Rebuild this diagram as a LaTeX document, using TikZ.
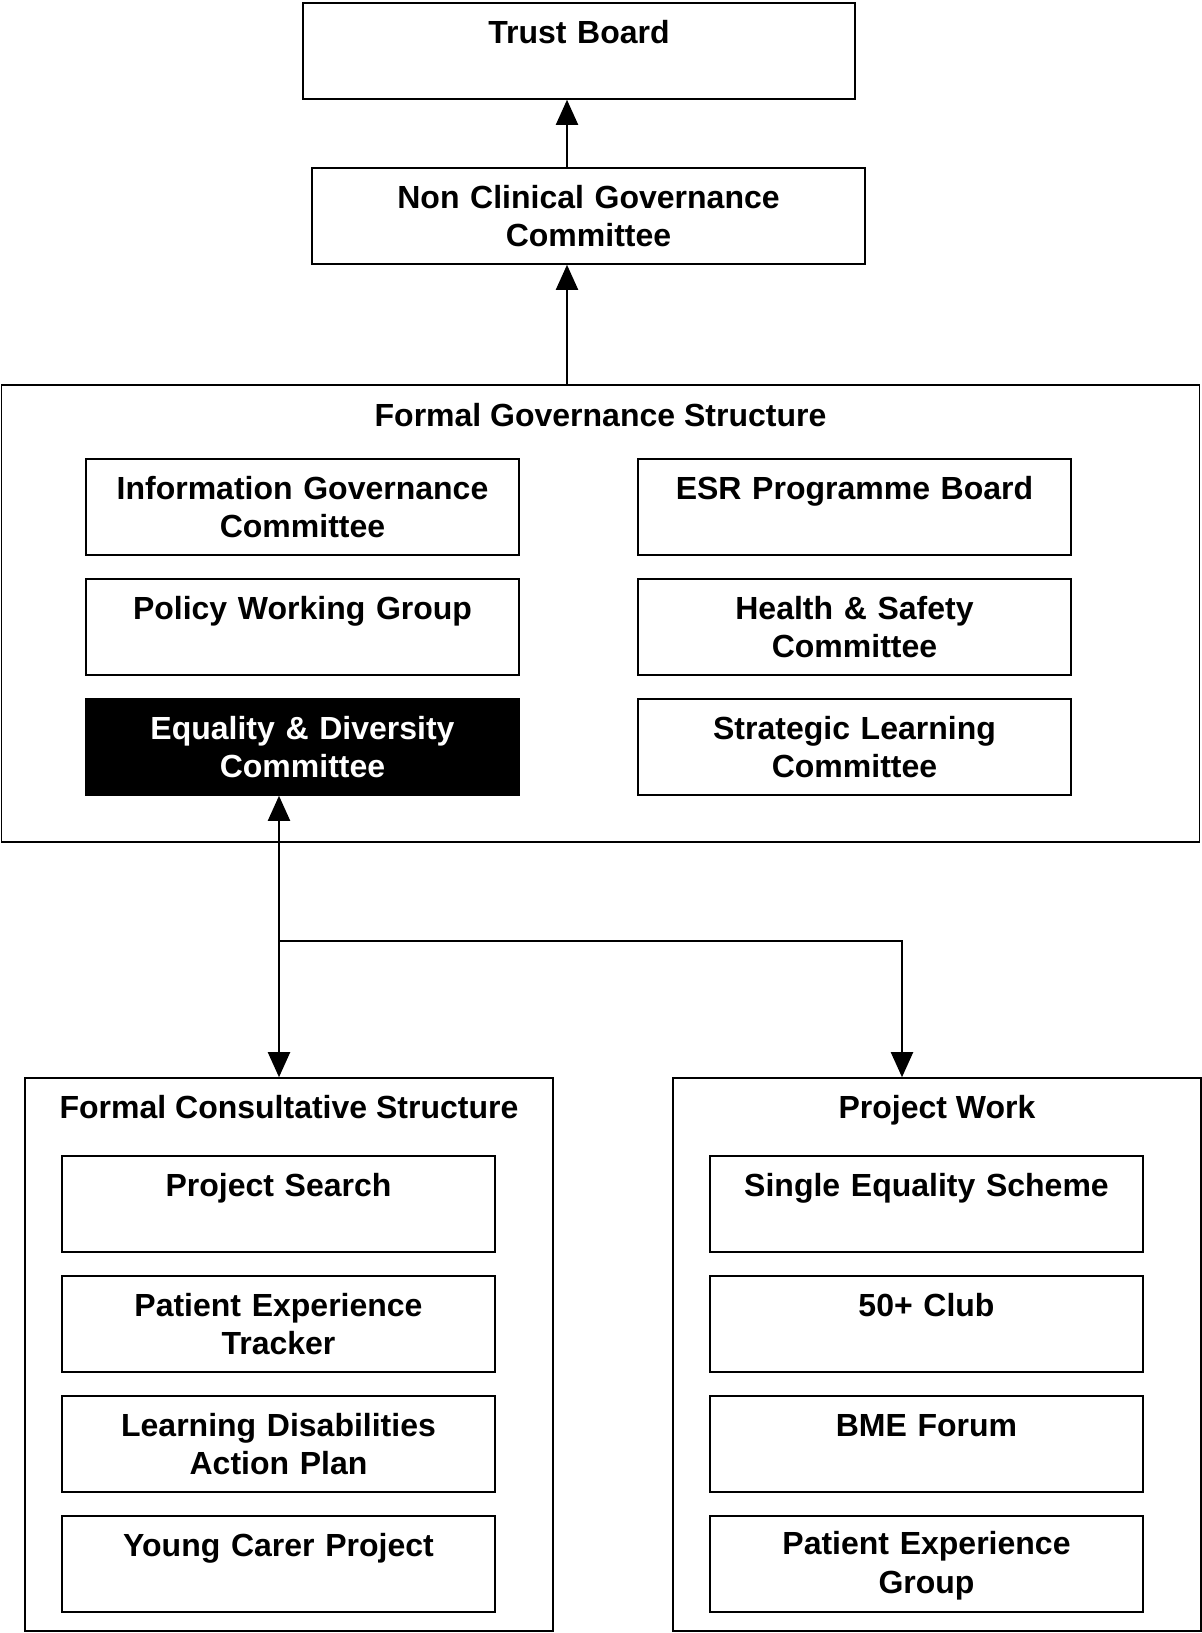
\documentclass[tikz,border=0pt]{standalone}
\usepackage{fontspec}
\setmainfont{Liberation Sans}
\usetikzlibrary{positioning,arrows.meta}

\begin{document}
\begin{tikzpicture}[
        x=0.5pt, y=-0.5pt,
        line width=0.8pt,
        font=\fontsize{16}{19.25}\selectfont\bfseries,
        zonetag/.style={anchor=base, align=center},
        zone/.style={draw, inner sep=0pt, minimum width=264pt, minimum height=276.5pt},
        unit/.style={draw, align=center, inner sep=0pt, text width=205pt, minimum width=216.5pt, minimum height=48pt,
          execute at begin node=\rule{0pt}{13.25pt}, execute at end node=\rule[-2pt]{0pt}{2pt}},
        link/.style={line width=1pt, -{Triangle[length=12.5pt, width=11pt]}},
        node distance=11.2pt
      ]

      \useasboundingbox (0,0) rectangle (1201,1633);

      \node (TB) at(579, 51) [unit, text width=260pt, minimum width=276pt] {Trust Board\\~};
      \node (NCG) at(588.5, 216) [unit, text width=260pt, minimum width=276.5pt] {Non Clinical Governance\\Committee};

      \node (FGS) at(600.5, 613.5) [zone, minimum width=599pt, minimum height=228.5pt] {};
      \node (FGStag) at([yshift=-21pt]FGS.north) [zonetag] {Formal Governance Structure};
      \node (IGC) at(302.5, 507) [unit] {Information Governance\\Committee};
      \node (PWG) [below=of IGC, unit] {Policy Working Group\\~};
      \node (EDC) [below=of PWG, unit, fill=black, text=white] {Equality \& Diversity\\Committee};
      \node (ESR) at(854.5, 507) [unit] {ESR Programme Board\\~};
      \node (HSC) [below=of ESR, unit] {Health \& Safety\\Committee};
      \node (SLC) [below=of HSC, unit] {Strategic Learning\\Committee};

      \node (FCS) at(289, 1354.5) [zone] {};
      \node (FCStag) at([yshift=-20.5pt]FCS.north) [zonetag] {Formal Consultative Structure};
      \node (PS) at(278.5, 1204) [unit] {Project Search\\~};
      \node (PET) [below=of PS, unit] {Patient Experience\\Tracker};
      \node (LDA) [below=of PET, unit] {Learning Disabilities\\Action Plan};
      \node (YCP) [below=of LDA, unit] {Young Carer Project\\~};

      \node (PW) at(937, 1354.5) [zone] {};
      \node (PWtag) at([yshift=-20.5pt]PW.north) [zonetag] {Project Work};
      \node (SES) at(926.5, 1204) [unit] {Single Equality Scheme\\~};
      \node (C50) [below=of SES, unit] {50+ Club\\~};
      \node (BME) [below=of C50, unit] {BME Forum\\~};
      \node (PEG) [below=of BME, unit] {Patient Experience\\Group};

      \coordinate (spine) at(567, 0);
      \coordinate (branch) at(279, 941);
      \coordinate (drop) at(902, 941);

      \draw[link] (FGS.north -| spine) -- (NCG.south -| spine);
      \draw[link] (NCG.north -| spine) -- (TB.south -| spine);
      \draw[link] (branch) -- (EDC.south -| branch);
      \draw[link] (branch) -- (FCS.north -| branch);
      \draw[link] (branch) -- (drop) -- (drop |- PW.north);
    \end{tikzpicture}
\end{document}
